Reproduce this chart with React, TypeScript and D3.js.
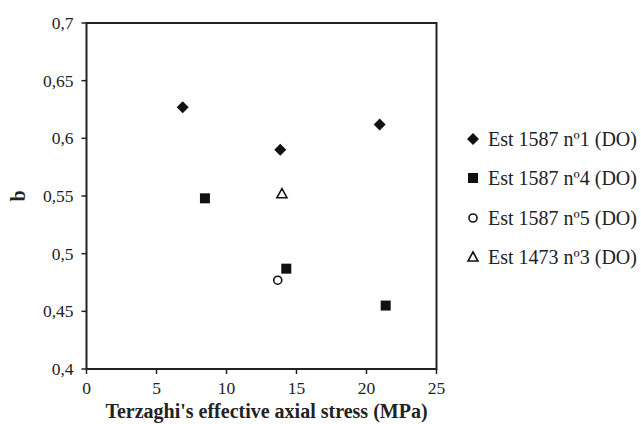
import React from "react";
import * as d3 from "d3";

const xTicks = [0, 5, 10, 15, 20, 25];
const yTicks = [0.4, 0.45, 0.5, 0.55, 0.6, 0.65, 0.7];

const seriesNames = [
  "Est 1587 nº1 (DO)",
  "Est 1587 nº4 (DO)",
  "Est 1587 nº5 (DO)",
  "Est 1473 nº3 (DO)",
];
const seriesSymbols = ["diamond", "square", "circle", "triangle"];

const s1x = [6.87, 13.84, 20.94];
const s1y = [0.627, 0.59, 0.612];
const s4x = [8.46, 14.27, 21.37];
const s4y = [0.548, 0.487, 0.455];
const s5x = [13.66];
const s5y = [0.477];
const s3x = [13.96];
const s3y = [0.552];

const seriesX = [s1x, s4x, s5x, s3x];
const seriesY = [s1y, s4y, s5y, s3y];

const W = 641, H = 424;
const L = 86.5, R = 436.5, T = 23, B = 369;
const FONT = "'Liberation Serif', 'Times New Roman', serif";

function Marker({ type, x, y }: { type: string; x: number; y: number }) {
  if (type === "diamond") {
    const s = 6;
    return <path d={`M${x},${y - s}L${x + s},${y}L${x},${y + s}L${x - s},${y}Z`} fill="#111" />;
  }
  if (type === "square") {
    const s = 5;
    return <rect x={x - s} y={y - s} width={2 * s} height={2 * s} fill="#111" />;
  }
  if (type === "circle") {
    return <circle cx={x} cy={y} r={4} fill="#fff" stroke="#111" strokeWidth={1.6} />;
  }
  const s = 5;
  return (
    <path
      d={`M${x},${y - s}L${x + s},${y + s * 0.8}L${x - s},${y + s * 0.8}Z`}
      fill="#fff"
      stroke="#111"
      strokeWidth={1.6}
      strokeLinejoin="miter"
    />
  );
}

export default function App() {
  const x = d3.scaleLinear().domain([0, 25]).range([L, R]);
  const y = d3.scaleLinear().domain([0.4, 0.7]).range([B, T]);
  const fmt = (v: number) => String(+v.toFixed(2)).replace(".", ",");
  const legendY = [139, 178, 218, 257];

  return (
    <svg width={W} height={H} style={{ position: "absolute", left: 0, top: 0, background: "#fff" }} fontFamily={FONT}>
      <rect x={0} y={0} width={W} height={H} fill="#fff" />
      <rect x={L} y={T} width={R - L} height={B - T} fill="none" stroke="#222" strokeWidth={2} />
      {yTicks.map((t) => (
        <g key={"y" + t}>
          <line x1={L - 5} x2={L} y1={y(t)} y2={y(t)} stroke="#222" strokeWidth={1.5} />
          <text x={L - 13} y={y(t)} dy="0.35em" textAnchor="end" fontSize={17.5} fill="#222">
            {fmt(t)}
          </text>
        </g>
      ))}
      {xTicks.map((t) => (
        <g key={"x" + t}>
          <line x1={x(t)} x2={x(t)} y1={B} y2={B + 5} stroke="#222" strokeWidth={1.5} />
          <text x={x(t)} y={394} textAnchor="middle" fontSize={17.5} fill="#222">
            {t}
          </text>
        </g>
      ))}
      <text x={(L + R) / 2 + 5} y={418} textAnchor="middle" fontSize={20} fontWeight="bold" fill="#222">
        Terzaghi's effective axial stress (MPa)
      </text>
      <text
        transform={`translate(25, ${(T + B) / 2}) rotate(-90)`}
        textAnchor="middle"
        fontSize={20}
        fontWeight="bold"
        fill="#222"
      >
        b
      </text>
      {seriesX.map((xs, si) =>
        xs.map((xv, i) => (
          <Marker key={si + "-" + i} type={seriesSymbols[si]} x={x(xv)} y={y(seriesY[si][i])} />
        ))
      )}
      {seriesNames.map((n, i) => (
        <g key={n}>
          <Marker type={seriesSymbols[i]} x={473} y={legendY[i]} />
          <text x={488} y={legendY[i]} dy="0.35em" fontSize={20} fill="#222">
            {n}
          </text>
        </g>
      ))}
    </svg>
  );
}
